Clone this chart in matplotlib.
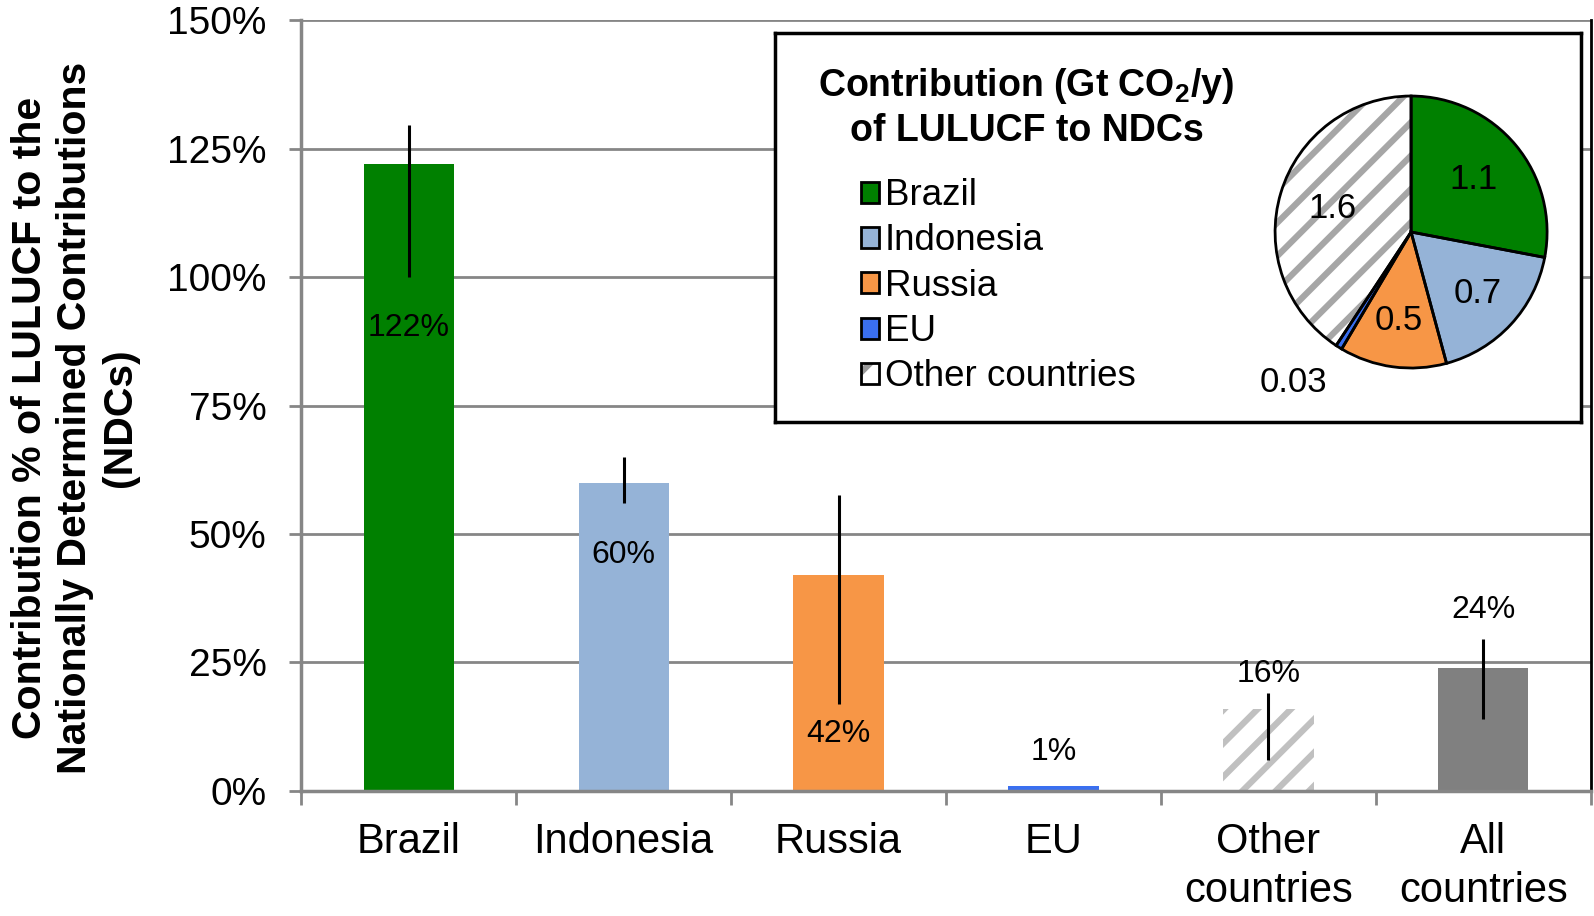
import numpy as np
import matplotlib
matplotlib.use("Agg")
import matplotlib.pyplot as plt
from matplotlib.patches import Patch
from matplotlib.legend_handler import HandlerTuple

plt.rcParams['font.family'] = ['Liberation Sans', 'DejaVu Sans']
plt.rcParams['mathtext.fontset'] = 'custom'
plt.rcParams['mathtext.rm'] = 'Liberation Sans'
plt.rcParams['mathtext.bf'] = 'Liberation Sans:bold'
plt.rcParams['hatch.linewidth'] = 4.5

# Bar data (percent of NDCs)
countries = ["Brazil", "Indonesia", "Russia", "EU", "Other\ncountries", "All\ncountries"]
share = [122, 60, 42, 1, 16, 24]
err_low = [100, 56, 17, 1, 6, 14]
err_high = [129.5, 65, 57.5, 1, 19, 29.5]
bar_labels = ["122%", "60%", "42%", "1%", "16%", "24%"]
label_y = [90, 46, 11, 7.6, 22.8, 35.3]
bar_colors = ["#008000", "#95b3d7", "#f79646", "#3a6ff0", "white", "#808080"]

# Pie data (Gt CO2/y)
pie_names = ["Brazil", "Indonesia", "Russia", "EU", "Other countries"]
pie_vals = [1.1, 0.7, 0.5, 0.03, 1.6]
pie_text = ["1.1", "0.7", "0.5", "0.03", "1.6"]
pie_colors = ["#008000", "#95b3d7", "#f79646", "#3a6ff0", "white"]
pie_dist = [0.6, 0.67, 0.66, 1.4, 0.6]

grid_gray = "#868686"
hatch_gray = "#c0c0c0"

fig = plt.figure(figsize=(15.94, 9.16), dpi=100)
ax = fig.add_axes([0.189, 0.1365, 0.809, 0.8415])

x = np.arange(len(countries))
bars = ax.bar(x, share, width=0.42, color=bar_colors, zorder=2)
bars[4].set_hatch('/')
bars[4].set_edgecolor(hatch_gray)
bars[4].set_linewidth(0)

yerr = [np.array(share) - np.array(err_low), np.array(err_high) - np.array(share)]
ax.errorbar(x, share, yerr=yerr, fmt='none', ecolor='black', elinewidth=2.2,
            capsize=0, zorder=3)

for xi, yi, t in zip(x, label_y, bar_labels):
    ax.text(xi, yi, t, ha='center', va='center', fontsize=23, zorder=4)

ax.set_xlim(-0.5, 5.5)
ax.set_ylim(0, 150)
ax.set_yticks(np.arange(0, 151, 25))
ax.set_yticklabels([f"{v}%" for v in range(0, 151, 25)])
ax.yaxis.grid(True, color=grid_gray, linewidth=2)
ax.set_axisbelow(True)

ax.set_xticks(x)
ax.set_xticklabels(countries, fontsize=30, linespacing=1.3)
ax.set_xticks(np.arange(-0.5, 5.6, 1), minor=True)
ax.tick_params(axis='x', which='major', length=0, pad=22)
ax.tick_params(axis='x', which='minor', length=10, width=2, color=grid_gray)
ax.tick_params(axis='y', length=9, width=2, color=grid_gray, pad=16, labelsize=28)

ax.spines['top'].set_visible(False)
ax.spines['left'].set_color(grid_gray)
ax.spines['bottom'].set_color(grid_gray)
ax.spines['left'].set_linewidth(2.5)
ax.spines['bottom'].set_linewidth(2.5)
ax.spines['right'].set_color('black')
ax.spines['right'].set_linewidth(2)

fig.text(0.047, 0.544,
         "Contribution % of LULUCF to the\nNationally Determined Contributions\n(NDCs)",
         rotation=90, ha='center', va='center', multialignment='center',
         fontsize=29.5, fontweight='bold', linespacing=1.22)

# Inset box with legend and pie
box = fig.add_axes([0.486, 0.539, 0.506, 0.425])
box.set_xticks([])
box.set_yticks([])
for s in box.spines.values():
    s.set_color('black')
    s.set_linewidth(2.5)

fig.text(0.644, 0.8825, "Contribution (Gt CO$_\\mathbf{2}$/y)\nof LULUCF to NDCs",
         ha='center', va='center', fontsize=27, fontweight='bold', linespacing=1.23)

handles = []
for c in pie_colors[:4]:
    handles.append(Patch(facecolor=c, edgecolor='black', linewidth=2))
handles.append((Patch(facecolor='white', edgecolor='#999999', linewidth=0, hatch='/'),
                Patch(facecolor='none', edgecolor='black', linewidth=2)))
box.legend(handles, pie_names, loc='upper left', bbox_to_anchor=(0.107, 0.627),
           frameon=False, fontsize=26.5, handlelength=0.5, handleheight=0.5,
           handletextpad=0.14, labelspacing=0.28, borderpad=0, borderaxespad=0,
           handler_map={tuple: HandlerTuple(ndivide=1)})

pie_ax = fig.add_axes([0.7786, 0.5611, 0.2133, 0.3712])
wedges, _ = pie_ax.pie(pie_vals, colors=pie_colors, startangle=90, counterclock=False)
for w in wedges:
    w.set_linewidth(0)
wedges[4].set_hatch('/')
wedges[4].set_edgecolor('#a6a6a6')
outline, _ = pie_ax.pie(pie_vals, colors=['none'] * 5, startangle=90, counterclock=False,
                        wedgeprops=dict(edgecolor='black', linewidth=2))
for w, d, t in zip(wedges, pie_dist, pie_text):
    ang = np.deg2rad((w.theta1 + w.theta2) / 2)
    if t == "0.03":
        ang = np.deg2rad(-128)
    pie_ax.text(d * np.cos(ang), d * np.sin(ang), t, ha='center', va='center', fontsize=25)

fig.savefig("out.png", dpi=100)
